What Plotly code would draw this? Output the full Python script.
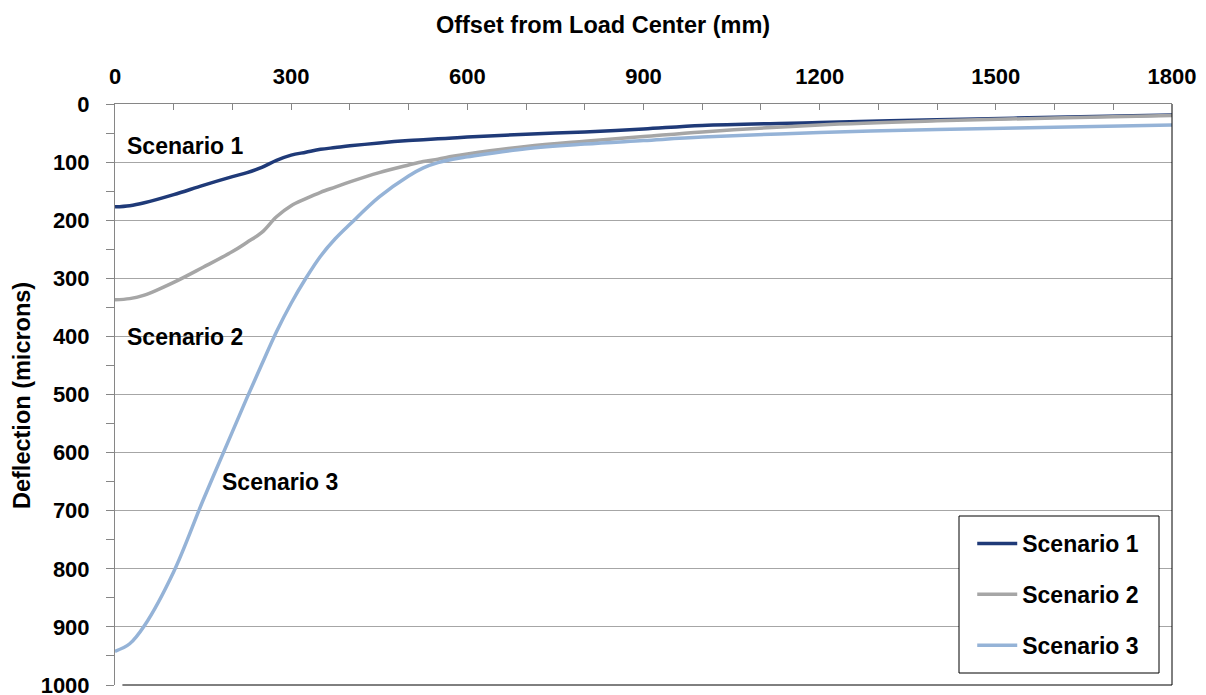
import plotly.graph_objects as go

# Offset from the load centre (mm) and surface deflection (microns) per scenario
offset_mm = [0, 25, 50, 100, 150, 200, 225, 250, 275, 300, 325, 350, 375, 400,
             450, 500, 525, 550, 575, 600, 700, 800, 900, 1000, 1200, 1400, 1600, 1800]
scenario_1 = [177, 175, 170, 156, 140, 125, 118, 109, 97, 88, 83, 78, 75, 72,
              67, 63, 61.5, 60, 58.5, 57, 52, 48, 43, 37, 32, 27, 23, 19]
scenario_2 = [337, 335, 329, 307, 281, 254, 238, 221, 194, 175, 163, 152, 143, 134,
              118, 105, 99, 95, 90, 86, 73, 64, 56, 48, 36, 29, 24, 20]
scenario_3 = [942, 929, 898, 805, 682, 564, 505, 448, 392, 343, 300, 262, 232, 207,
              160, 124, 110, 101, 95, 91, 77, 69, 63, 57, 49, 44, 40, 36]

series_names = ["Scenario 1", "Scenario 2", "Scenario 3"]
series_colors = ["#1F3A78", "#A6A6A6", "#95B3D7"]
x_ticks = [0, 300, 600, 900, 1200, 1500, 1800]
y_ticks = [0, 100, 200, 300, 400, 500, 600, 700, 800, 900, 1000]

FONT = "Liberation Sans, Arial, sans-serif"

fig = go.Figure()
for name, vals, col in zip(series_names, [scenario_1, scenario_2, scenario_3], series_colors):
    fig.add_trace(go.Scatter(
        x=offset_mm, y=vals, name=name, mode="lines",
        line=dict(color=col, width=3.5, shape="spline", smoothing=1.0),
        legendgroup=name,
    ))

fig.update_layout(
    width=1206, height=695,
    margin=dict(l=115, r=34, t=104, b=10, autoexpand=False),
    paper_bgcolor="white", plot_bgcolor="white",
    font=dict(family=FONT, color="black"),
    title=dict(text="Offset from Load Center (mm)", x=0.5, xref="container",
               xanchor="center", y=1 - 25 / 695, yref="container", yanchor="middle",
               font=dict(size=23.5, weight="bold", family=FONT)),
    showlegend=True,
    legend=dict(x=0.811, y=0.2806, xanchor="left", yanchor="top",
                bgcolor="rgba(0,0,0,0)", borderwidth=0,
                font=dict(size=23, weight="bold", family=FONT),
                tracegroupgap=18, itemwidth=40),
)

fig.update_xaxes(
    side="top", range=[0, 1800], tickvals=x_ticks, automargin=False,
    ticks="inside", ticklen=6, tickcolor="#868686", tickwidth=1,
    minor=dict(dtick=100, ticks="inside", ticklen=6, tickcolor="#868686", showgrid=False),
    showline=True, linecolor="#868686", linewidth=1,
    showgrid=False, zeroline=False,
    tickfont=dict(size=22, weight="bold", family=FONT),
    ticklabelstandoff=10,
)
fig.update_yaxes(
    range=[1000, 0], tickvals=y_ticks, automargin=False,
    ticks="outside", ticklen=8, tickcolor="#868686", tickwidth=1,
    minor=dict(dtick=50, ticks="outside", ticklen=8, tickcolor="#868686", showgrid=False),
    showline=True, linecolor="#868686", linewidth=1,
    showgrid=True, gridcolor="#A6A6A6", gridwidth=1, zeroline=False,
    tickfont=dict(size=22, weight="bold", family=FONT),
    ticklabelstandoff=12, ticklabeloverflow="allow",
)

# right and bottom edges of the plot area
fig.add_shape(type="line", xref="paper", yref="paper", x0=0.007, x1=1, y0=0, y1=0,
              line=dict(color="black", width=1))
fig.add_shape(type="line", xref="paper", yref="paper", x0=1, x1=1, y0=0, y1=1,
              line=dict(color="black", width=1))
# legend frame
fig.add_shape(type="rect", xref="paper", yref="paper",
              x0=(959 - 115) / 1057, x1=(1159 - 115) / 1057,
              y0=(685 - 673) / 581, y1=(685 - 516) / 581,
              line=dict(color="black", width=1), fillcolor="white", layer="above")

# y axis title
fig.add_annotation(text="Deflection (microns)", xref="paper", yref="paper",
                   x=(22 - 115) / 1057, y=(685 - 396) / 581, textangle=-90,
                   showarrow=False, xanchor="center", yanchor="middle",
                   font=dict(size=23.5, weight="bold", family=FONT))

# in-plot series labels
label_pos = [(17, 72), (17, 401), (179, 650)]
for name, (lx, ly) in zip(series_names, label_pos):
    fig.add_annotation(text=name, x=lx, y=ly, xref="x", yref="y", showarrow=False,
                       xanchor="left", yanchor="middle",
                       font=dict(size=23, weight="bold", family=FONT))

fig.write_html("out.html")
